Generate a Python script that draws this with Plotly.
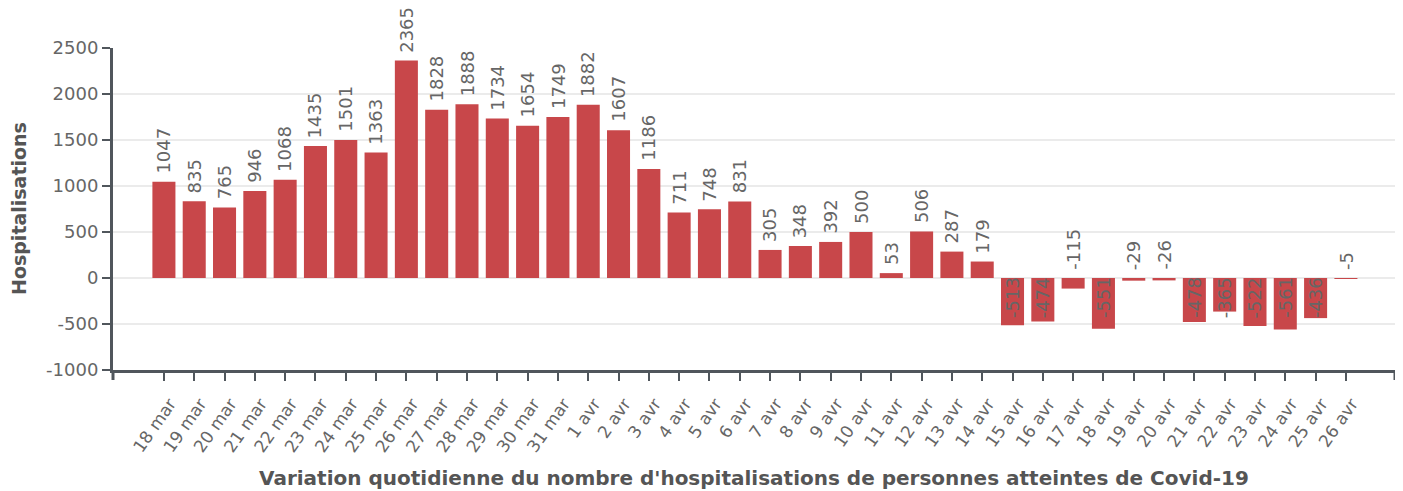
import plotly.graph_objects as go

categories = ["18 mar", "19 mar", "20 mar", "21 mar", "22 mar", "23 mar", "24 mar", "25 mar",
              "26 mar", "27 mar", "28 mar", "29 mar", "30 mar", "31 mar",
              "1 avr", "2 avr", "3 avr", "4 avr", "5 avr", "6 avr", "7 avr", "8 avr", "9 avr",
              "10 avr", "11 avr", "12 avr", "13 avr", "14 avr", "15 avr", "16 avr", "17 avr",
              "18 avr", "19 avr", "20 avr", "21 avr", "22 avr", "23 avr", "24 avr", "25 avr", "26 avr"]
values = [1047, 835, 765, 946, 1068, 1435, 1501, 1363, 2365, 1828, 1888, 1734, 1654, 1749,
          1882, 1607, 1186, 711, 748, 831, 305, 348, 392, 500, 53, 506, 287, 179,
          -513, -474, -115, -551, -29, -26, -478, -365, -522, -561, -436, -5]
y_ticks = [-1000, -500, 0, 500, 1000, 1500, 2000, 2500]
y_ticktext = ["-1000", "-500", "0", "500", "1000", "1500", "2000", "2500"]

FONT = "DejaVu Sans"
BAR = "#c8474a"
TXT = "#666666"
AX = "#50565c"

fig = go.Figure()
fig.add_trace(go.Bar(x=categories, y=values, marker=dict(color=BAR, line=dict(width=0)),
                     width=0.76, hoverinfo="x+y"))

annotations = []
for c, v in zip(categories, values):
    inside = v < -300
    annotations.append(dict(
        x=c, y=0 if v < 0 else v, xref="x", yref="y", text=str(v), showarrow=False,
        textangle=-90, font=dict(family=FONT, size=18, color=TXT),
        yanchor="top" if inside else "bottom",
        yshift=3 if inside else 6,
    ))

annotations.append(dict(
    text="Variation quotidienne du nombre d'hospitalisations de personnes atteintes de Covid-19",
    xref="paper", yref="paper", x=0.5, y=0, yshift=-108, yanchor="middle", showarrow=False,
    font=dict(family=FONT, size=20, color="#555555", weight="bold")))
annotations.append(dict(
    text="Hospitalisations", xref="paper", yref="paper", x=0, xshift=-94, y=0.5,
    textangle=-90, showarrow=False, xanchor="center",
    font=dict(family=FONT, size=19, color="#555555", weight="bold")))

shapes = [
    dict(type="line", xref="paper", yref="paper", x0=xp, x1=xp, ysizemode="pixel",
         yanchor=0, y0=0, y1=-10, line=dict(color=AX, width=3))
    for xp in (0, 1)
]

# page body has an 8px margin: compensate in figure size and margins
fig.update_layout(
    width=1395, height=483,
    margin=dict(l=105, r=8, t=40, b=121),
    plot_bgcolor="white", paper_bgcolor="white",
    showlegend=False,
    annotations=annotations, shapes=shapes,
    font=dict(family=FONT, color=TXT),
)
fig.update_xaxes(
    type="category", range=[-1.68, 40.62], tickangle=-55,
    tickfont=dict(family=FONT, size=17, color=TXT),
    ticklabelshift=6, ticklabelstandoff=6,
    showline=True, linecolor=AX, linewidth=3,
    ticks="outside", ticklen=8, tickcolor=AX, tickwidth=2,
    showgrid=False, zeroline=False,
)
fig.update_yaxes(
    range=[-1000, 2500], tickvals=y_ticks, ticktext=y_ticktext,
    tickfont=dict(family=FONT, size=18, color=TXT),
    showline=True, linecolor=AX, linewidth=3,
    ticks="outside", ticklen=8, tickcolor=AX, tickwidth=2,
    showgrid=True, gridcolor="#ebebeb", gridwidth=2, zeroline=False,
)

fig.write_html("out.html")
